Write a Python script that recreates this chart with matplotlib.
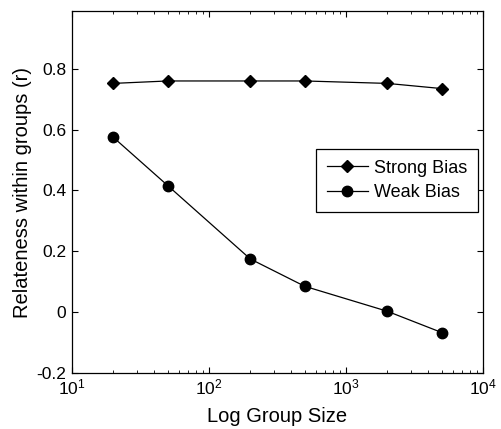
import matplotlib
matplotlib.use("Agg")
import matplotlib.pyplot as plt
from matplotlib.ticker import LogLocator, NullFormatter

group_size = [20, 50, 200, 500, 2000, 5000]
strong_bias = [0.752, 0.760, 0.760, 0.760, 0.752, 0.735]
weak_bias = [0.575, 0.416, 0.175, 0.085, 0.003, -0.067]
y_ticks = [-0.2, 0, 0.2, 0.4, 0.6, 0.8]
y_labels = ["-0.2", "0", "0.2", "0.4", "0.6", "0.8"]

plt.rcParams["font.family"] = ["Liberation Sans", "DejaVu Sans"]

fig = plt.figure(figsize=(5.01, 4.29), dpi=100)
ax = fig.add_axes([72 / 501, 1 - 373 / 429, 411 / 501, 362 / 429])

ax.plot(group_size, strong_bias, "-", color="black", lw=0.9,
        marker="D", markersize=6.5, label="Strong Bias")
ax.plot(group_size, weak_bias, "-", color="black", lw=0.9,
        marker="o", markersize=7.5, label="Weak Bias")

ax.set_xscale("log")
ax.set_xlim(10, 1e4)
ax.set_ylim(-0.2, 0.99)
ax.set_yticks(y_ticks)
ax.set_yticklabels(y_labels)
ax.xaxis.set_minor_locator(LogLocator(base=10, subs=range(2, 10)))
ax.xaxis.set_minor_formatter(NullFormatter())

ax.tick_params(which="both", direction="in", top=True, right=True, labelsize=12.5)
ax.tick_params(which="major", length=4)
ax.tick_params(which="minor", length=2.5)
ax.tick_params(axis="y", pad=4)
for s in ax.spines.values():
    s.set_linewidth(0.9)

ax.set_xlabel("Log Group Size", fontsize=14.5, labelpad=7)
ax.set_ylabel("Relateness within groups (r)", fontsize=14.5, labelpad=3)

leg = ax.legend(loc="upper right", bbox_to_anchor=(0.987, 0.619), fontsize=13,
                fancybox=False, framealpha=1, edgecolor="black",
                handlelength=2.3, borderpad=0.6, labelspacing=0.4, handletextpad=0.3,
                borderaxespad=0)
leg.get_frame().set_linewidth(0.9)

fig.savefig("out.png", dpi=100)
